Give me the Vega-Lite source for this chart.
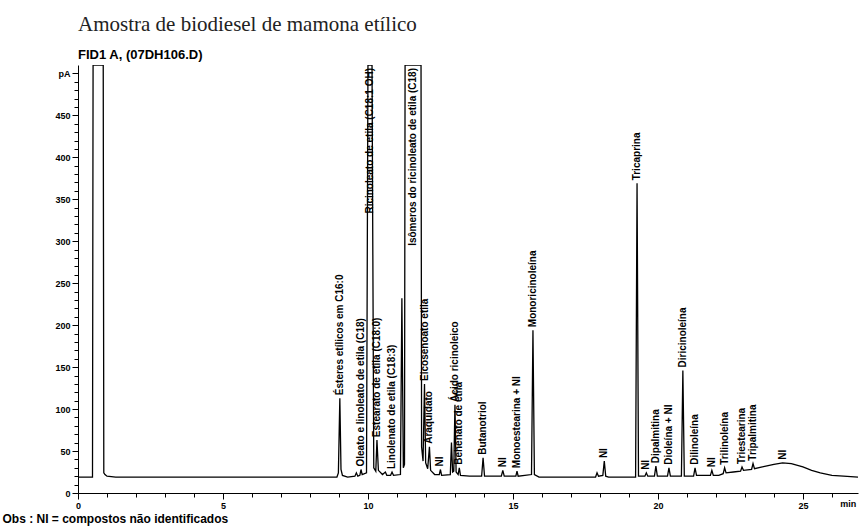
{
  "$schema": "https://vega.github.io/schema/vega-lite/v6.json",
  "width": 780,
  "height": 428,
  "autosize": "none",
  "padding": {"left": 78, "top": 65, "right": 2, "bottom": 34},
  "background": "white",
  "title": {
    "text": "Amostra de biodiesel de mamona etílico",
    "subtitle": "FID1 A, (07DH106.D)",
    "anchor": "start",
    "frame": "group",
    "font": "Liberation Serif",
    "fontSize": 21,
    "fontWeight": "normal",
    "color": "#222222",
    "subtitleFont": "Liberation Sans",
    "subtitleFontSize": 13,
    "subtitleFontWeight": "bold",
    "subtitleColor": "#000000",
    "subtitlePadding": 14,
    "offset": 3
  },
  "config": {"view": {"stroke": null}, "axis": {"grid": false, "labelOverlap": false}},
  "datasets": {
    "sinal": [
      {"t": 0, "pA": 19}, {"t": 0.5, "pA": 19}, {"t": 0.52, "pA": 600}, {"t": 0.87, "pA": 600},
      {"t": 0.89, "pA": 24}, {"t": 0.93, "pA": 22}, {"t": 1.0, "pA": 20}, {"t": 1.3, "pA": 19},
      {"t": 8.93, "pA": 19}, {"t": 8.98, "pA": 24}, {"t": 9.03, "pA": 113}, {"t": 9.07, "pA": 28},
      {"t": 9.12, "pA": 21}, {"t": 9.3, "pA": 19}, {"t": 9.55, "pA": 20}, {"t": 9.6, "pA": 24},
      {"t": 9.65, "pA": 20}, {"t": 9.72, "pA": 21}, {"t": 9.76, "pA": 28}, {"t": 9.8, "pA": 22},
      {"t": 9.95, "pA": 24}, {"t": 10.0, "pA": 600}, {"t": 10.14, "pA": 600}, {"t": 10.2, "pA": 30},
      {"t": 10.27, "pA": 26}, {"t": 10.31, "pA": 63}, {"t": 10.36, "pA": 27}, {"t": 10.5, "pA": 22},
      {"t": 10.6, "pA": 25}, {"t": 10.65, "pA": 21}, {"t": 10.78, "pA": 21}, {"t": 10.83, "pA": 25},
      {"t": 10.88, "pA": 21}, {"t": 11.12, "pA": 22}, {"t": 11.17, "pA": 232}, {"t": 11.22, "pA": 30},
      {"t": 11.26, "pA": 34}, {"t": 11.28, "pA": 600}, {"t": 11.83, "pA": 600}, {"t": 11.85, "pA": 55},
      {"t": 11.9, "pA": 38}, {"t": 11.95, "pA": 130}, {"t": 11.99, "pA": 36}, {"t": 12.06, "pA": 29},
      {"t": 12.12, "pA": 55}, {"t": 12.16, "pA": 27}, {"t": 12.3, "pA": 22}, {"t": 12.46, "pA": 22},
      {"t": 12.5, "pA": 28}, {"t": 12.54, "pA": 21}, {"t": 12.84, "pA": 22}, {"t": 12.88, "pA": 60},
      {"t": 12.92, "pA": 25}, {"t": 12.96, "pA": 26}, {"t": 13.0, "pA": 105}, {"t": 13.04, "pA": 25},
      {"t": 13.11, "pA": 22}, {"t": 13.15, "pA": 30}, {"t": 13.19, "pA": 21}, {"t": 13.5, "pA": 20},
      {"t": 13.92, "pA": 20}, {"t": 13.97, "pA": 42}, {"t": 14.02, "pA": 20}, {"t": 14.6, "pA": 20},
      {"t": 14.65, "pA": 27}, {"t": 14.7, "pA": 20}, {"t": 15.1, "pA": 20}, {"t": 15.14, "pA": 26},
      {"t": 15.18, "pA": 20}, {"t": 15.64, "pA": 22}, {"t": 15.69, "pA": 194}, {"t": 15.74, "pA": 22},
      {"t": 15.9, "pA": 19}, {"t": 17.85, "pA": 19}, {"t": 17.9, "pA": 24}, {"t": 17.95, "pA": 20},
      {"t": 18.1, "pA": 21}, {"t": 18.15, "pA": 38}, {"t": 18.2, "pA": 20}, {"t": 18.3, "pA": 19},
      {"t": 19.23, "pA": 19}, {"t": 19.28, "pA": 369}, {"t": 19.33, "pA": 20}, {"t": 19.55, "pA": 20},
      {"t": 19.6, "pA": 24}, {"t": 19.65, "pA": 20}, {"t": 19.88, "pA": 20}, {"t": 19.93, "pA": 32},
      {"t": 19.98, "pA": 20}, {"t": 20.33, "pA": 20}, {"t": 20.38, "pA": 30}, {"t": 20.43, "pA": 20},
      {"t": 20.81, "pA": 20}, {"t": 20.86, "pA": 146}, {"t": 20.91, "pA": 20}, {"t": 21.23, "pA": 20},
      {"t": 21.28, "pA": 30}, {"t": 21.33, "pA": 21}, {"t": 21.81, "pA": 21}, {"t": 21.86, "pA": 27},
      {"t": 21.91, "pA": 21}, {"t": 22.1, "pA": 21}, {"t": 22.25, "pA": 23}, {"t": 22.3, "pA": 30},
      {"t": 22.35, "pA": 24}, {"t": 22.6, "pA": 25}, {"t": 22.85, "pA": 26}, {"t": 22.9, "pA": 31},
      {"t": 22.95, "pA": 27}, {"t": 23.23, "pA": 28}, {"t": 23.28, "pA": 35}, {"t": 23.33, "pA": 29},
      {"t": 23.6, "pA": 31}, {"t": 24.0, "pA": 34}, {"t": 24.3, "pA": 36}, {"t": 24.6, "pA": 35},
      {"t": 25.0, "pA": 31}, {"t": 25.3, "pA": 27}, {"t": 25.6, "pA": 24}, {"t": 26.0, "pA": 21},
      {"t": 26.4, "pA": 20}, {"t": 26.9, "pA": 19}
    ],
    "picos": [
      {"t": 9.03, "pA": 113, "rotulo": "Ésteres etílicos em C16:0"},
      {"t": 9.76, "pA": 28, "rotulo": "Oleato e linoleato de etila (C18)"},
      {"t": 10.07, "pA": 600, "rotulo": "Ricinoleato de etila (C18:1 OH)"},
      {"t": 10.31, "pA": 63, "rotulo": "Estearato de etila (C18:0)"},
      {"t": 10.83, "pA": 25, "rotulo": "Linolenato de etila (C18:3)"},
      {"t": 11.555, "pA": 600, "rotulo": "Isômeros do ricinoleato de etila (C18)"},
      {"t": 11.95, "pA": 130, "rotulo": "Eicosenoato etila"},
      {"t": 12.12, "pA": 55, "rotulo": "Araquidato"},
      {"t": 12.5, "pA": 28, "rotulo": "NI"},
      {"t": 13.0, "pA": 105, "rotulo": "Ácido ricinoleico"},
      {"t": 13.15, "pA": 30, "rotulo": "Behenato de etila"},
      {"t": 13.97, "pA": 42, "rotulo": "Butanotriol"},
      {"t": 14.65, "pA": 27, "rotulo": "NI"},
      {"t": 15.14, "pA": 26, "rotulo": "Monoestearina + NI"},
      {"t": 15.69, "pA": 194, "rotulo": "Monoricinoleína"},
      {"t": 18.15, "pA": 38, "rotulo": "NI"},
      {"t": 19.28, "pA": 369, "rotulo": "Tricaprina"},
      {"t": 19.6, "pA": 24, "rotulo": "NI"},
      {"t": 19.93, "pA": 32, "rotulo": "Dipalmitina"},
      {"t": 20.38, "pA": 30, "rotulo": "Dioleína + NI"},
      {"t": 20.86, "pA": 146, "rotulo": "Diricinoleína"},
      {"t": 21.28, "pA": 30, "rotulo": "Dilinoleína"},
      {"t": 21.86, "pA": 27, "rotulo": "NI"},
      {"t": 22.3, "pA": 30, "rotulo": "Trilinoleína"},
      {"t": 22.9, "pA": 31, "rotulo": "Triestearina"},
      {"t": 23.28, "pA": 35, "rotulo": "Tripalmitina"},
      {"t": 24.3, "pA": 36, "rotulo": "NI"}
    ]
  },
  "encoding": {
    "x": {
      "field": "t",
      "type": "quantitative",
      "scale": {"domain": [0, 26.9], "nice": false, "zero": false},
      "axis": {
        "values": [0, 1, 2, 3, 4, 5, 6, 7, 8, 9, 10, 11, 12, 13, 14, 15, 16, 17, 18, 19, 20, 21, 22, 23, 24, 25, 26, 26.55],
        "labelExpr": "datum.value == 26.55 ? 'min' : (datum.value % 5 == 0 ? datum.label : '')",
        "tickSize": {"condition": {"test": "datum.value % 5 == 0", "value": 6}, "value": 4},
        "tickOpacity": {"condition": {"test": "datum.value == 26.55", "value": 0}, "value": 1},
        "labelFlush": false,
        "labelOverlap": false,
        "labelFont": "Liberation Sans",
        "labelFontSize": 9,
        "labelFontWeight": "bold",
        "labelColor": "#000000",
        "labelPadding": 2,
        "domainColor": "#000000",
        "tickColor": "#000000",
        "title": "Obs : NI = compostos não identificados",
        "titleFont": "Liberation Sans",
        "titleFontSize": 12,
        "titleFontWeight": "bold",
        "titleColor": "#000000",
        "titleAnchor": "start",
        "titleAlign": "left",
        "titleBaseline": "alphabetic",
        "titleX": -76,
        "titleY": 29
      }
    },
    "y": {
      "field": "pA",
      "type": "quantitative",
      "scale": {"domain": [0, 510], "nice": false, "clamp": true},
      "axis": {
        "values": [0, 10, 20, 30, 40, 50, 60, 70, 80, 90, 100, 110, 120, 130, 140, 150, 160, 170, 180, 190, 200, 210, 220, 230, 240, 250, 260, 270, 280, 290, 300, 310, 320, 330, 340, 350, 360, 370, 380, 390, 400, 410, 420, 430, 440, 450, 460, 470, 480, 490, 500],
        "labelExpr": "datum.value == 500 ? 'pA' : (datum.value % 50 == 0 ? datum.label : '')",
        "tickSize": {"condition": {"test": "datum.value % 50 == 0", "value": 6}, "value": 4},
        "labelOverlap": false,
        "labelFont": "Liberation Sans",
        "labelFontSize": 9,
        "labelFontWeight": "bold",
        "labelColor": "#000000",
        "labelPadding": 2,
        "domainColor": "#000000",
        "tickColor": "#000000",
        "title": null
      }
    }
  },
  "layer": [
    {
      "data": {"name": "sinal"},
      "mark": {"type": "line", "color": "#000000", "strokeWidth": 1.3, "clip": true}
    },
    {
      "data": {"name": "picos"},
      "transform": [{"filter": "datum.pA <= 510"}],
      "mark": {"type": "text", "angle": 270, "align": "left", "baseline": "middle", "yOffset": -3, "font": "Liberation Sans", "fontSize": 10, "fontWeight": "bold", "color": "#000000"},
      "encoding": {
        "text": {"field": "rotulo", "type": "nominal"}
      }
    },
    {
      "data": {"name": "picos"},
      "transform": [{"filter": "datum.pA > 510"}],
      "mark": {"type": "text", "angle": 270, "align": "right", "baseline": "middle", "yOffset": 3, "font": "Liberation Sans", "fontSize": 10, "fontWeight": "bold", "color": "#000000"},
      "encoding": {
        "text": {"field": "rotulo", "type": "nominal"}
      }
    }
  ]
}
